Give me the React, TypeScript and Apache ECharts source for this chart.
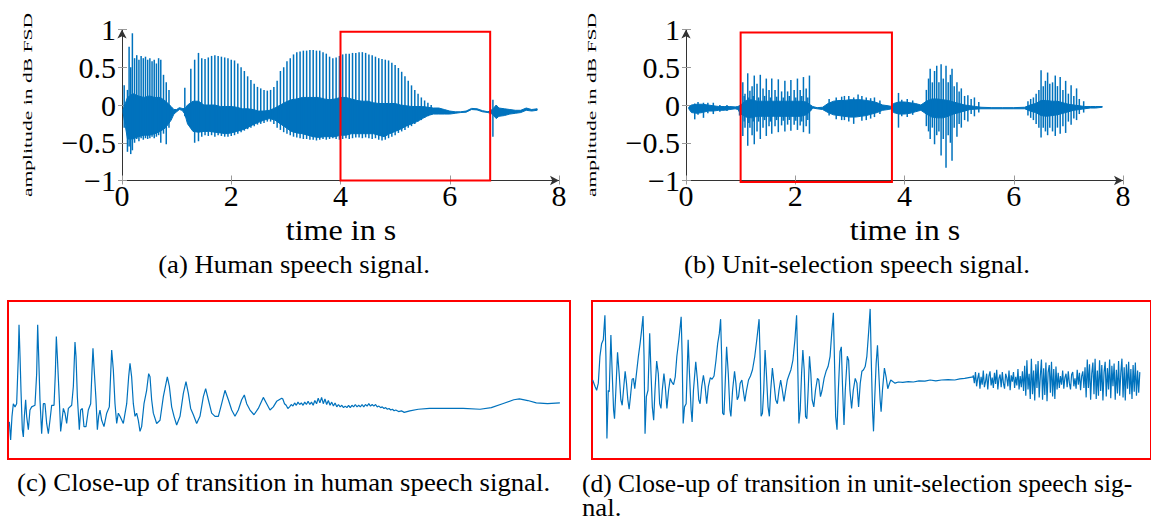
import React, { useEffect, useRef } from 'react';
import * as echarts from 'echarts';

const BLUE = '#0072BD';
const RED = '#ff0000';
const FONT = "'Liberation Serif', 'DejaVu Serif', serif";

// ---- axis ticks ----
const timeTicks = { min: 0, max: 8, interval: 2 };
const ampTicks = { min: -1, max: 1, interval: 0.5 };

// ---- (a) human speech signal: envelope of dense body [t, low, high] ----
const humanBody = [
  [0.02, -0.1, -0.06], [0.1, -0.45, 0.1], [0.2, -0.45, 0.15], [0.3, -0.42, 0.12], [0.4, -0.4, 0.1],
  [0.5, -0.4, 0.12], [0.6, -0.38, 0.1], [0.7, -0.35, 0.1], [0.8, -0.3, 0.05], [0.9, -0.2, -0.02],
  [0.95, -0.12, -0.06], [1.0, -0.09, -0.06], [1.05, -0.06, -0.035], [1.1, -0.07, -0.045], [1.15, -0.12, -0.05],
  [1.2, -0.25, 0.0], [1.3, -0.35, 0.05], [1.4, -0.36, 0.05], [1.5, -0.35, 0.0], [1.6, -0.35, 0.0],
  [1.7, -0.36, 0.0], [1.8, -0.37, -0.02], [1.9, -0.38, -0.02], [2.0, -0.37, -0.02], [2.1, -0.35, -0.03],
  [2.2, -0.33, -0.05], [2.3, -0.3, -0.05], [2.4, -0.26, -0.06], [2.5, -0.23, -0.08], [2.6, -0.2, -0.08],
  [2.7, -0.18, -0.07], [2.8, -0.2, -0.04], [2.9, -0.25, 0.0], [3.0, -0.3, 0.04], [3.1, -0.35, 0.07],
  [3.2, -0.37, 0.08], [3.3, -0.38, 0.1], [3.4, -0.4, 0.1], [3.5, -0.42, 0.1], [3.6, -0.43, 0.1],
  [3.7, -0.42, 0.08], [3.8, -0.42, 0.07], [3.9, -0.42, 0.08], [4.0, -0.4, 0.1], [4.1, -0.4, 0.1],
  [4.2, -0.38, 0.08], [4.3, -0.38, 0.06], [4.4, -0.38, 0.05], [4.5, -0.38, 0.05], [4.6, -0.38, 0.03],
  [4.7, -0.4, 0.02], [4.8, -0.42, 0.02], [4.9, -0.38, 0.02], [5.0, -0.35, 0.02], [5.1, -0.32, 0.0],
  [5.2, -0.28, -0.01], [5.3, -0.25, -0.02], [5.4, -0.22, -0.02], [5.5, -0.18, -0.02], [5.6, -0.14, -0.03],
  [5.7, -0.12, -0.04], [5.8, -0.12, -0.04], [5.9, -0.12, -0.06], [6.0, -0.12, -0.08], [6.1, -0.11, -0.09],
  [6.2, -0.1, -0.09], [6.3, -0.095, -0.08], [6.4, -0.06, -0.045], [6.5, -0.065, -0.05], [6.6, -0.09, -0.075],
  [6.7, -0.1, -0.09], [6.78, -0.12, -0.06], [6.85, -0.18, 0.0], [6.9, -0.15, -0.04], [7.0, -0.14, -0.05],
  [7.1, -0.12, -0.06], [7.2, -0.11, -0.07], [7.3, -0.1, -0.07], [7.4, -0.07, -0.04], [7.5, -0.08, -0.06],
  [7.6, -0.07, -0.05],
];

// (a) glottal pulses: [t, low, high]
const humanSpikes = [
  [0.04, -0.3, 0.26], [0.1, -0.62, 0.2], [0.13, -0.55, 0.77], [0.16, -0.65, 0.5], [0.19, -0.6, 0.95],
  [0.23, -0.5, 0.62], [0.27, -0.45, 0.66], [0.31, -0.48, 0.6], [0.35, -0.44, 0.65], [0.39, -0.46, 0.62],
  [0.43, -0.44, 0.64], [0.47, -0.45, 0.6], [0.51, -0.44, 0.62], [0.55, -0.42, 0.58], [0.59, -0.44, 0.6],
  [0.63, -0.42, 0.55], [0.67, -0.4, 0.62], [0.71, -0.5, 0.6], [0.76, -0.38, 0.4], [0.81, -0.52, 0.3],
  [0.86, -0.3, 0.2], [1.15, -0.15, 0.23],
  [1.26, -0.3, 0.48], [1.33, -0.5, 0.6], [1.4, -0.48, 0.69], [1.46, -0.42, 0.62], [1.52, -0.4, 0.61],
  [1.58, -0.41, 0.63], [1.64, -0.4, 0.65], [1.7, -0.42, 0.66], [1.76, -0.4, 0.65], [1.82, -0.41, 0.64],
  [1.88, -0.42, 0.63], [1.94, -0.42, 0.62], [2.0, -0.41, 0.6], [2.06, -0.4, 0.59], [2.12, -0.38, 0.55],
  [2.18, -0.36, 0.5], [2.24, -0.34, 0.45], [2.3, -0.32, 0.38], [2.36, -0.3, 0.33], [2.42, -0.28, 0.28],
  [2.48, -0.26, 0.24], [2.54, -0.25, 0.22], [2.6, -0.24, 0.2], [2.66, -0.22, 0.19], [2.72, -0.22, 0.2],
  [2.78, -0.25, 0.24], [2.84, -0.3, 0.32],
  [2.9, -0.33, 0.45], [2.96, -0.36, 0.5], [3.02, -0.38, 0.58], [3.08, -0.4, 0.62], [3.14, -0.42, 0.67],
  [3.2, -0.43, 0.7], [3.26, -0.44, 0.71], [3.32, -0.45, 0.72], [3.38, -0.45, 0.72], [3.44, -0.46, 0.73],
  [3.5, -0.46, 0.73], [3.56, -0.47, 0.72], [3.62, -0.46, 0.72], [3.68, -0.45, 0.7], [3.74, -0.46, 0.68],
  [3.8, -0.45, 0.64], [3.86, -0.44, 0.62], [3.92, -0.45, 0.63], [3.98, -0.46, 0.65], [4.04, -0.45, 0.67],
  [4.1, -0.44, 0.68], [4.16, -0.45, 0.68], [4.22, -0.44, 0.69], [4.28, -0.43, 0.69], [4.34, -0.43, 0.7],
  [4.4, -0.44, 0.7], [4.46, -0.43, 0.69], [4.52, -0.44, 0.67], [4.58, -0.45, 0.66], [4.64, -0.44, 0.64],
  [4.7, -0.46, 0.62], [4.76, -0.47, 0.61], [4.82, -0.46, 0.6], [4.88, -0.44, 0.59], [4.94, -0.42, 0.56],
  [5.0, -0.4, 0.53], [5.06, -0.37, 0.49], [5.12, -0.35, 0.44], [5.18, -0.33, 0.38], [5.24, -0.3, 0.32],
  [5.3, -0.28, 0.26], [5.36, -0.25, 0.2], [5.42, -0.22, 0.15], [5.48, -0.2, 0.1], [5.54, -0.17, 0.06],
  [5.6, -0.15, 0.03], [5.66, -0.13, 0.0], [6.79, -0.42, 0.07],
];

// ---- (b) unit-selection speech signal ----
const unitBody = [
  [0.05, -0.05, -0.03], [0.1, -0.1, 0.0], [0.2, -0.11, 0.01], [0.3, -0.1, 0.01], [0.4, -0.08, 0.0],
  [0.5, -0.08, -0.01], [0.6, -0.07, -0.02], [0.7, -0.07, -0.02], [0.8, -0.06, -0.02], [0.9, -0.05, -0.025],
  [0.95, -0.06, -0.02], [1.0, -0.12, 0.0], [1.1, -0.16, 0.06], [1.2, -0.17, 0.07], [1.3, -0.15, 0.05],
  [1.4, -0.15, 0.05], [1.5, -0.15, 0.05], [1.6, -0.15, 0.05], [1.7, -0.15, 0.05], [1.8, -0.15, 0.05],
  [1.9, -0.15, 0.05], [2.0, -0.15, 0.05], [2.1, -0.15, 0.05], [2.2, -0.13, 0.04], [2.28, -0.08, 0.0],
  [2.32, -0.04, -0.02], [2.4, -0.05, -0.035], [2.5, -0.06, -0.03], [2.6, -0.1, 0.02], [2.7, -0.13, 0.05],
  [2.8, -0.14, 0.06], [2.9, -0.15, 0.06], [3.0, -0.16, 0.07], [3.1, -0.16, 0.07], [3.2, -0.15, 0.07],
  [3.3, -0.14, 0.06], [3.4, -0.12, 0.05], [3.5, -0.1, 0.03], [3.6, -0.07, 0.0], [3.7, -0.06, -0.01],
  [3.77, -0.05, -0.02], [3.8, -0.1, 0.02], [3.9, -0.12, 0.04], [4.0, -0.12, 0.04], [4.1, -0.11, 0.03],
  [4.2, -0.09, 0.02], [4.3, -0.07, 0.0], [4.4, -0.12, 0.05], [4.5, -0.16, 0.08], [4.6, -0.17, 0.08],
  [4.7, -0.17, 0.07], [4.8, -0.15, 0.06], [4.9, -0.12, 0.04], [5.0, -0.1, 0.02], [5.1, -0.08, 0.0],
  [5.2, -0.06, -0.01], [5.3, -0.055, -0.02], [5.4, -0.05, -0.03], [5.6, -0.05, -0.035], [5.8, -0.05, -0.035],
  [6.0, -0.05, -0.035], [6.2, -0.05, -0.03], [6.3, -0.08, 0.0], [6.4, -0.1, 0.02], [6.5, -0.14, 0.06],
  [6.6, -0.15, 0.06], [6.7, -0.14, 0.05], [6.8, -0.13, 0.05], [6.9, -0.11, 0.03], [7.0, -0.09, 0.01],
  [7.1, -0.07, 0.0], [7.2, -0.06, -0.01], [7.3, -0.05, -0.02], [7.4, -0.04, -0.02], [7.5, -0.04, -0.02],
  [7.62, -0.03, -0.02],
];

const unitSpikes = [
  [0.16, -0.19, 0.02], [0.22, -0.13, 0.04], [0.32, -0.17, 0.03], [0.4, -0.11, 0.03], [0.5, -0.12, 0.03],
  [0.62, -0.09, 0.0], [0.75, -0.08, 0.0],
  [0.98, -0.14, -0.02], [1.04, -0.41, 0.3], [1.065, -0.22, 0.12], [1.08, -0.3, 0.15], [1.13, -0.54, 0.42],
  [1.15, -0.24, 0.1], [1.17, -0.3, 0.19], [1.21, -0.4, 0.25], [1.23, -0.22, 0.12], [1.25, -0.52, 0.39],
  [1.3, -0.35, 0.28], [1.33, -0.22, 0.1], [1.36, -0.45, 0.4], [1.41, -0.3, 0.22], [1.44, -0.2, 0.12],
  [1.47, -0.41, 0.35], [1.52, -0.28, 0.2], [1.545, -0.22, 0.1], [1.57, -0.38, 0.35], [1.63, -0.28, 0.2],
  [1.66, -0.2, 0.11], [1.69, -0.36, 0.34], [1.75, -0.27, 0.18], [1.78, -0.21, 0.1], [1.81, -0.35, 0.32],
  [1.86, -0.26, 0.18], [1.89, -0.2, 0.12], [1.92, -0.34, 0.33], [1.98, -0.26, 0.2], [2.01, -0.21, 0.1],
  [2.04, -0.33, 0.35], [2.09, -0.27, 0.2], [2.12, -0.22, 0.12], [2.15, -0.36, 0.37], [2.2, -0.28, 0.22],
  [2.23, -0.2, 0.1], [2.26, -0.38, 0.39],
  [2.62, -0.14, 0.08], [2.75, -0.19, 0.1], [2.85, -0.2, 0.11], [2.9, -0.2, 0.12], [2.98, -0.22, 0.12],
  [3.07, -0.25, 0.1], [3.15, -0.15, 0.14], [3.22, -0.21, 0.12], [3.3, -0.2, 0.1], [3.38, -0.18, 0.09],
  [3.45, -0.16, 0.1], [3.55, -0.12, 0.06], [3.89, -0.3, 0.16], [3.95, -0.15, 0.07], [4.05, -0.16, 0.08],
  [4.15, -0.13, 0.06],
  [4.4, -0.28, 0.2], [4.44, -0.35, 0.35], [4.47, -0.45, 0.48], [4.51, -0.3, 0.3], [4.55, -0.52, 0.45],
  [4.59, -0.4, 0.52], [4.63, -0.35, 0.3], [4.67, -0.67, 0.54], [4.71, -0.45, 0.35], [4.76, -0.83, 0.52],
  [4.8, -0.4, 0.3], [4.84, -0.5, 0.4], [4.87, -0.74, 0.48], [4.91, -0.3, 0.25], [4.96, -0.42, 0.3],
  [5.0, -0.25, 0.18], [5.04, -0.3, 0.22], [5.1, -0.2, 0.12], [5.16, -0.22, 0.13], [5.22, -0.12, 0.08],
  [5.28, -0.15, 0.1], [5.36, -0.1, 0.04],
  [6.26, -0.14, 0.05], [6.31, -0.17, 0.08], [6.36, -0.2, 0.1], [6.41, -0.25, 0.15], [6.46, -0.3, 0.2],
  [6.5, -0.43, 0.46], [6.54, -0.3, 0.25], [6.58, -0.35, 0.32], [6.62, -0.4, 0.43], [6.66, -0.3, 0.28],
  [6.71, -0.35, 0.3], [6.76, -0.41, 0.39], [6.8, -0.3, 0.25], [6.85, -0.38, 0.37], [6.9, -0.28, 0.2],
  [6.95, -0.37, 0.32], [7.0, -0.22, 0.15], [7.05, -0.26, 0.26], [7.1, -0.18, 0.12], [7.15, -0.2, 0.22],
  [7.2, -0.12, 0.08], [7.28, -0.1, 0.05],
];

// close-up windows [t0, t1, ampLow, ampHigh]
const humanWindow = [4.0, 6.74, -1.0, 0.97];
const unitWindow = [1.0, 3.77, -1.02, 0.96];

// ---- (c) close-up, human: [x, y] in window-relative units ----
const closeHumanVoiced = [
  [0.24, -0.53], [0.47, -0.76], [0.71, -0.46], [0.95, -0.3], [1.25, -0.34], [1.54, -0.3], [1.84, 0.3], [1.96, 0.7],
  [2.14, 0.3], [2.31, -0.13], [2.55, -0.63], [2.73, -0.72], [2.91, -0.46], [3.14, -0.25], [3.32, -0.46], [3.62, -0.63],
  [3.91, -0.38], [4.21, -0.34], [4.8, -0.32], [5.1, 0.08], [5.28, 0.7], [5.46, 0.3], [5.69, -0.25], [5.99, -0.68],
  [6.29, -0.3], [6.58, -0.3], [6.88, -0.55], [7.18, -0.68], [7.47, -0.51], [7.77, -0.32], [8.19, -0.32], [8.42, 0.08],
  [8.6, 0.55], [8.78, 0.3], [9.13, -0.25], [9.37, -0.65], [9.61, -0.51], [9.85, -0.36], [10.14, -0.42], [10.44, -0.55],
  [10.74, -0.36], [11.33, -0.32], [11.63, -0.08], [11.92, 0.48], [12.1, 0.3], [12.34, -0.21], [12.69, -0.63], [12.93, -0.38],
  [13.23, -0.36], [13.52, -0.59], [13.88, -0.59], [14.29, -0.38], [14.71, -0.3], [14.95, 0.13], [15.12, 0.4], [15.3, 0.17],
  [15.66, -0.25], [15.9, -0.63], [16.13, -0.46], [16.37, -0.38], [16.67, -0.51], [17.08, -0.59], [17.56, -0.42], [18.03, -0.34],
  [18.27, 0.08], [18.45, 0.38], [18.74, 0.13], [19.04, -0.3], [19.34, -0.55], [19.63, -0.42], [19.93, -0.46], [20.52, -0.55],
  [21.12, -0.3], [21.47, 0.04], [21.71, 0.21], [22.0, 0.04], [22.3, -0.3], [22.6, -0.46], [22.89, -0.42], [23.19, -0.51],
  [23.49, -0.65], [23.78, -0.59], [24.2, -0.3], [24.67, -0.13], [25.03, 0.08], [25.27, 0.04], [25.56, -0.25], [25.86, -0.42],
  [26.45, -0.55], [27.05, -0.51], [27.64, -0.21], [28.35, 0.04], [28.71, -0.08], [29.12, -0.34], [29.54, -0.46], [30.01, -0.57],
  [30.61, -0.46], [31.2, -0.17], [31.67, -0.02], [32.09, -0.17], [32.5, -0.36], [32.98, -0.44], [33.57, -0.55], [34.16, -0.46],
  [34.76, -0.21], [35.17, -0.11], [35.65, -0.25], [36.24, -0.42], [36.83, -0.46], [37.43, -0.46], [38.02, -0.3], [38.61, -0.13],
  [39.21, -0.25], [39.8, -0.38], [40.39, -0.46], [40.98, -0.38], [41.58, -0.25], [42.05, -0.19], [42.47, -0.3], [43.06, -0.38],
  [43.77, -0.44], [44.54, -0.36], [45.43, -0.22], [46.03, -0.3], [46.62, -0.38], [47.21, -0.34], [47.8, -0.27], [48.7, -0.23],
];
const closeHumanNoise = [
  [48.9, -0.24], [49.2, -0.3], [49.5, -0.32], [49.8, -0.36], [50.1, -0.34], [50.4, -0.31], [50.7, -0.33], [51.0, -0.29],
  [51.3, -0.32], [51.6, -0.28], [51.9, -0.31], [52.2, -0.29], [52.5, -0.32], [52.8, -0.28], [53.1, -0.31], [53.4, -0.27],
  [53.7, -0.31], [54.0, -0.28], [54.3, -0.32], [54.6, -0.26], [54.9, -0.3], [55.2, -0.23], [55.5, -0.29], [55.8, -0.22],
  [56.1, -0.3], [56.4, -0.24], [56.7, -0.31], [57.0, -0.26], [57.3, -0.32], [57.6, -0.28], [57.9, -0.33], [58.2, -0.29],
  [58.5, -0.34], [58.8, -0.31], [59.1, -0.34], [59.4, -0.32], [59.7, -0.35], [60.0, -0.33], [60.3, -0.35], [60.6, -0.32],
  [60.9, -0.35], [61.2, -0.32], [61.5, -0.34], [61.8, -0.31], [62.1, -0.34], [62.4, -0.32], [62.7, -0.34], [63.0, -0.31],
  [63.3, -0.34], [63.6, -0.31], [63.9, -0.33], [64.2, -0.3], [64.5, -0.33], [64.8, -0.31], [65.1, -0.33], [65.4, -0.31],
  [65.7, -0.34], [66.0, -0.33], [66.3, -0.35], [66.6, -0.34], [66.9, -0.36], [67.2, -0.35], [67.5, -0.37], [67.8, -0.36],
  [68.1, -0.38], [68.4, -0.37], [68.7, -0.39], [69.0, -0.38], [69.5, -0.4], [70.0, -0.39], [70.5, -0.41],
];
const closeHumanTail = [
  [71.5, -0.39], [73, -0.37], [75, -0.36], [78, -0.36], [81, -0.36], [84, -0.37], [86, -0.35], [88, -0.3],
  [90, -0.25], [91, -0.24], [92.5, -0.26], [94, -0.29], [96, -0.3], [98.2, -0.29],
];

// ---- (d) close-up, unit selection ----
const closeUnitVoiced = [
  [0.12, 0], [0.53, -0.08], [0.83, -0.13], [1.13, -0.04], [1.42, 0.3], [1.72, 0.46], [2.02, 0.51], [2.31, 0.82],
  [2.49, 0.3], [2.67, -0.74], [2.91, -0.13], [3.08, -0.15], [3.38, 0.57], [3.62, 0.08], [3.86, -0.38], [4.03, -0.49],
  [4.27, -0.13], [4.57, 0.35], [4.86, 0.08], [5.16, -0.25], [5.4, -0.32], [5.69, -0.08], [5.93, 0.11], [6.17, -0.04],
  [6.41, -0.25], [6.64, -0.37], [6.88, -0.21], [7.18, 0.01], [7.41, 0.02], [7.65, -0.11], [7.95, 0.08], [8.3, 0.3],
  [8.6, 0.46], [8.84, 0.61], [9.13, 0.81], [9.31, 0.3], [9.49, -0.68], [9.73, -0.21], [10.02, -0.13], [10.32, 0.59],
  [10.56, 0.08], [10.79, -0.34], [11.03, -0.51], [11.27, -0.13], [11.57, 0.24], [11.86, 0.08], [12.1, -0.3], [12.34, -0.36],
  [12.57, -0.13], [12.87, 0.08], [13.11, -0.08], [13.4, -0.36], [13.7, -0.13], [14.0, 0.02], [14.23, -0.02], [14.59, -0.06],
  [14.89, 0.04], [15.18, 0.3], [15.54, 0.51], [15.95, 0.8], [16.13, 0.3], [16.31, -0.55], [16.55, -0.34], [16.84, -0.3],
  [17.2, 0.51], [17.44, 0.08], [17.73, -0.38], [17.91, -0.53], [18.15, -0.13], [18.56, 0.23], [18.86, 0], [19.1, -0.25],
  [19.34, -0.3], [19.63, -0.08], [19.93, 0.06], [20.23, -0.08], [20.52, -0.3], [20.82, -0.08], [21.17, 0.03], [21.47, 0.01],
  [21.83, 0.05], [22.18, 0.25], [22.48, 0.46], [22.78, 0.59], [23.01, 0.77], [23.19, 0.3], [23.37, -0.42], [23.61, -0.44],
  [23.78, -0.13], [24.08, 0.42], [24.38, 0.08], [24.67, -0.38], [24.85, -0.46], [25.15, -0.13], [25.5, 0.11], [25.74, -0.04],
  [25.98, -0.25], [26.22, -0.21], [26.51, -0.04], [26.81, 0], [27.05, -0.13], [27.34, -0.27], [27.64, -0.13], [28.0, 0],
  [28.35, 0.05], [28.71, 0.13], [29.12, 0.3], [29.48, 0.51], [29.89, 0.77], [30.07, 0.3], [30.25, -0.46], [30.49, -0.42],
  [30.72, -0.13], [30.96, 0.38], [31.2, 0.08], [31.49, -0.34], [31.73, -0.46], [31.97, -0.13], [32.27, 0.15], [32.56, -0.04],
  [32.86, -0.25], [33.16, -0.3], [33.45, -0.13], [33.75, 0], [34.05, -0.13], [34.34, -0.27], [34.64, -0.13], [34.94, 0],
  [35.23, 0.06], [35.59, 0.13], [35.94, 0.25], [36.3, 0.51], [36.6, 0.82], [36.77, 0.3], [37.01, -0.55], [37.25, -0.38],
  [37.49, 0.08], [37.72, 0.38], [37.96, 0.13], [38.2, -0.46], [38.43, -0.49], [38.67, -0.13], [38.91, 0.3], [39.15, 0.08],
  [39.38, -0.25], [39.68, -0.34], [39.98, -0.13], [40.33, 0.02], [40.57, 0], [40.87, -0.21], [41.16, -0.13], [41.52, 0.02],
  [41.87, 0.11], [42.23, 0.17], [42.59, 0.3], [42.88, 0.59], [43.18, 0.85], [43.36, 0.3], [43.59, -0.46], [43.83, -0.63],
  [44.07, -0.13], [44.37, 0.36], [44.6, 0.42], [44.84, -0.13], [45.08, -0.57], [45.31, -0.13], [45.67, 0.3], [45.91, 0.25],
  [46.14, -0.13], [46.44, -0.36], [46.74, -0.13], [47.09, 0.02], [47.39, -0.04], [47.69, -0.34], [47.99, -0.04], [48.28, 0.11],
  [48.58, 0.13], [48.87, 0.17], [49.17, 0.3], [49.47, 0.59], [49.76, 0.9], [49.94, 0.3], [50.18, -0.38], [50.36, -0.65],
  [50.59, -0.21], [50.83, 0.21], [51.07, 0.44], [51.31, 0.08], [51.54, -0.25], [51.72, -0.4], [51.96, -0.13], [52.31, 0.15],
  [52.61, 0.04], [52.91, -0.11], [53.14, -0.06], [53.44, 0], [53.8, -0.02], [54.21, -0.04], [54.8, -0.025], [55.6, -0.03],
  [56.58, -0.02], [57.5, -0.025], [58.5, -0.01], [59.55, -0.015], [60.5, 0], [61.5, -0.01], [62.51, 0], [63.7, 0.005],
  [64.89, 0], [65.8, 0.015], [66.67, 0.02], [67.4, 0.03], [68.15, 0.04],
];
// (d) fricative noise, one value per sample step after the flat part
const unitNoiseStart = 68.2;
const unitNoiseStep = 0.2;
const unitNoise = [
  0.06, -0.04, 0.1, -0.08, 0.02, 0.09, -0.11, 0.04, -0.06, 0.12, -0.09, -0.02, 0.08, -0.12, 0.05, 0.11,
  -0.07, 0.03, -0.1, 0.09, -0.05, 0.13, -0.12, 0.02, 0.07, -0.09, 0.1, -0.04, -0.11, 0.08, 0.03, -0.08,
  0.12, -0.13, 0.06, -0.02, 0.1, -0.1, 0.04, -0.07, 0.14, -0.12, 0.05, -0.09, 0.11, -0.14,
  0.18, -0.2, 0.25, -0.12, 0.08, -0.24, 0.27, -0.18, 0.12, -0.26, 0.2, -0.1, 0.24, -0.22, 0.05, 0.26,
  -0.25, 0.15, -0.19, 0.22, -0.27, 0.1, 0.19, -0.16, 0.23, -0.21, 0.14, -0.24, 0.17, -0.12,
  0.09, -0.1, 0.05, -0.06, 0.12, -0.11, 0.03, 0.08, -0.09, 0.11, -0.04, -0.12, 0.07, 0.1, -0.08, 0.02,
  -0.11, 0.13, -0.06, 0.09, -0.13, 0.05, 0.11, -0.1,
  0.16, -0.22, 0.26, -0.1, 0.2, -0.25, 0.08, 0.22, -0.18, 0.27, -0.24, 0.12, -0.2, 0.25, -0.14, 0.19,
  -0.26, 0.1, 0.23, -0.21, 0.15, -0.12, 0.26, -0.23, 0.18, -0.08, 0.21, -0.25, 0.13, -0.17, 0.24, -0.2,
  0.09, 0.27, -0.22, 0.16, -0.26, 0.2, -0.11, 0.23, -0.18, 0.14, -0.24, 0.19, -0.15, 0.22, -0.2, 0.12,
  -0.16, 0.1,
];

const fmtAmp = (v: number) => (v < 0 ? '\u2212' + Math.abs(v) : String(v));

function mainXAxis(grid: number) {
  return {
    type: 'value', gridIndex: grid, position: 'bottom', ...timeTicks,
    axisLine: { show: true, onZero: false, symbol: ['none', 'arrow'], symbolSize: [7, 9], lineStyle: { color: '#333', width: 1 } },
    axisTick: { show: true, inside: true, length: 5, lineStyle: { color: '#9a9a9a' } },
    axisLabel: { show: true, fontFamily: FONT, fontSize: 30, color: '#000', margin: 0 },
    splitLine: { show: false },
  };
}
function tickXAxis(grid: number) {
  return {
    type: 'value', gridIndex: grid, position: 'bottom', ...timeTicks,
    axisLine: { show: false, onZero: false }, axisLabel: { show: false }, splitLine: { show: false },
    axisTick: { show: true, inside: false, length: 4, lineStyle: { color: '#9a9a9a' } },
  };
}
function mainYAxis(grid: number) {
  return {
    type: 'value', gridIndex: grid, position: 'left', ...ampTicks,
    axisLine: { show: true, onZero: false, symbol: ['none', 'arrow'], symbolSize: [7, 9], lineStyle: { color: '#333', width: 1 } },
    axisTick: { show: true, inside: true, length: 5, lineStyle: { color: '#9a9a9a' } },
    axisLabel: { show: true, fontFamily: FONT, fontSize: 30, color: '#000', margin: 6, formatter: fmtAmp },
    splitLine: { show: false },
  };
}
function tickYAxis(grid: number) {
  return {
    type: 'value', gridIndex: grid, position: 'left', ...ampTicks,
    axisLine: { show: false, onZero: false }, axisLabel: { show: false }, splitLine: { show: false },
    axisTick: { show: true, inside: false, length: 4, lineStyle: { color: '#9a9a9a' } },
  };
}

function bodySeries(axis: number, data: number[][]) {
  return {
    type: 'custom', coordinateSystem: 'cartesian2d', xAxisIndex: axis, yAxisIndex: axis, silent: true, z: 2,
    data: [[data[0][0], data[0][1]]],
    renderItem: (_p: any, api: any) => {
      const up = data.map((d) => api.coord([d[0], d[2]]));
      const lo = data.slice().reverse().map((d) => api.coord([d[0], d[1]]));
      return { type: 'polygon', shape: { points: up.concat(lo) }, style: { fill: BLUE, stroke: BLUE, lineWidth: 1 } };
    },
  };
}
function spikeSeries(axis: number, data: number[][]) {
  return {
    type: 'custom', coordinateSystem: 'cartesian2d', xAxisIndex: axis, yAxisIndex: axis, silent: true, z: 3,
    data, encode: { x: 0, y: [1, 2] },
    renderItem: (_p: any, api: any) => {
      const a = api.coord([api.value(0), api.value(1)]);
      const b = api.coord([api.value(0), api.value(2)]);
      return { type: 'line', shape: { x1: a[0], y1: a[1], x2: b[0], y2: b[1] }, style: { stroke: BLUE, lineWidth: 1.5 } };
    },
  };
}
function windowSeries(axis: number, w: number[]) {
  return {
    type: 'custom', coordinateSystem: 'cartesian2d', xAxisIndex: axis, yAxisIndex: axis, silent: true, z: 10,
    data: [w], encode: { x: [0, 1], y: [2, 3] },
    renderItem: (_p: any, api: any) => {
      const p0 = api.coord([api.value(0), api.value(3)]);
      const p1 = api.coord([api.value(1), api.value(2)]);
      return {
        type: 'rect', shape: { x: p0[0], y: p0[1], width: p1[0] - p0[0], height: p1[1] - p0[1] },
        style: { fill: 'none', stroke: RED, lineWidth: 2 },
      };
    },
  };
}

function text(t: string, x: number, y: number, size: number, align: string, extra: any = {}) {
  return {
    type: 'text', x, y, silent: true, ...extra,
    style: {
      text: t, fontSize: size, fontFamily: FONT, fill: '#000', lineHeight: Math.min(size, 24),
      textAlign: align, align, textVerticalAlign: 'middle', verticalAlign: 'middle',
    },
  };
}

const CAP = 25;
const CAP_STRETCH = { scaleX: 1.07 };

export default function App() {
  const ref = useRef<HTMLDivElement>(null);
  useEffect(() => {
    if (!ref.current) return;
    const chart = echarts.init(ref.current, null, { renderer: 'svg' });
    const unitNoisePts = unitNoise.map((v, i) => [unitNoiseStart + i * unitNoiseStep, v]);
    const option: any = {
      animation: false,
      grid: [
        { left: 122, top: 29.5, width: 437, height: 151 },
        { left: 686, top: 29.5, width: 437, height: 151 },
        { left: 8, top: 301, width: 562, height: 158, show: true, borderColor: RED, borderWidth: 2, backgroundColor: 'transparent' },
        { left: 592, top: 301, width: 562, height: 158, show: true, borderColor: RED, borderWidth: 2, backgroundColor: 'transparent' },
      ],
      xAxis: [
        mainXAxis(0), tickXAxis(0), mainXAxis(1), tickXAxis(1),
        { type: 'value', gridIndex: 2, min: 0, max: 100, show: false },
        { type: 'value', gridIndex: 3, min: 0, max: 100, show: false },
      ],
      yAxis: [
        mainYAxis(0), tickYAxis(0), mainYAxis(1), tickYAxis(1),
        { type: 'value', gridIndex: 2, min: -1, max: 1, show: false },
        { type: 'value', gridIndex: 3, min: -1, max: 1, show: false },
      ],
      series: [
        bodySeries(0, humanBody), spikeSeries(0, humanSpikes), windowSeries(0, humanWindow),
        bodySeries(2, unitBody), spikeSeries(2, unitSpikes), windowSeries(2, unitWindow),
        {
          type: 'line', xAxisIndex: 4, yAxisIndex: 4, showSymbol: false, silent: true,
          data: closeHumanVoiced.concat(closeHumanNoise, closeHumanTail),
          lineStyle: { color: BLUE, width: 1.2 }, itemStyle: { color: BLUE },
        },
        {
          type: 'line', xAxisIndex: 5, yAxisIndex: 5, showSymbol: false, silent: true,
          data: closeUnitVoiced.concat(unitNoisePts),
          lineStyle: { color: BLUE, width: 1.2 }, itemStyle: { color: BLUE },
        },
      ],
      graphic: [
        text('amplitude in dB FSD', 28, 105, 12, 'center', { rotation: Math.PI / 2, scaleX: 1.8 }),
        text('amplitude in dB FSD', 592, 105, 12, 'center', { rotation: Math.PI / 2, scaleX: 1.8 }),
        text('time in s', 341, 230, 30, 'center', { scaleX: 1.07 }),
        text('time in s', 905, 230, 30, 'center', { scaleX: 1.07 }),
        text('(a) Human speech signal.', 294, 265, CAP, 'center', CAP_STRETCH),
        text('(b) Unit-selection speech signal.', 857, 265, CAP, 'center', CAP_STRETCH),
        text('(c) Close-up of transition in human speech signal.', 17, 483, CAP, 'left', CAP_STRETCH),
        text('(d) Close-up of transition in unit-selection speech sig-', 582, 483, CAP, 'left', { scaleX: 1.02 }),
        text('nal.', 582, 508, CAP, 'left', CAP_STRETCH),
      ],
    };
    chart.setOption(option);
    return () => chart.dispose();
  }, []);
  return <div ref={ref} style={{ position: 'absolute', left: 0, top: 0, width: 1151, height: 522 }} />;
}
